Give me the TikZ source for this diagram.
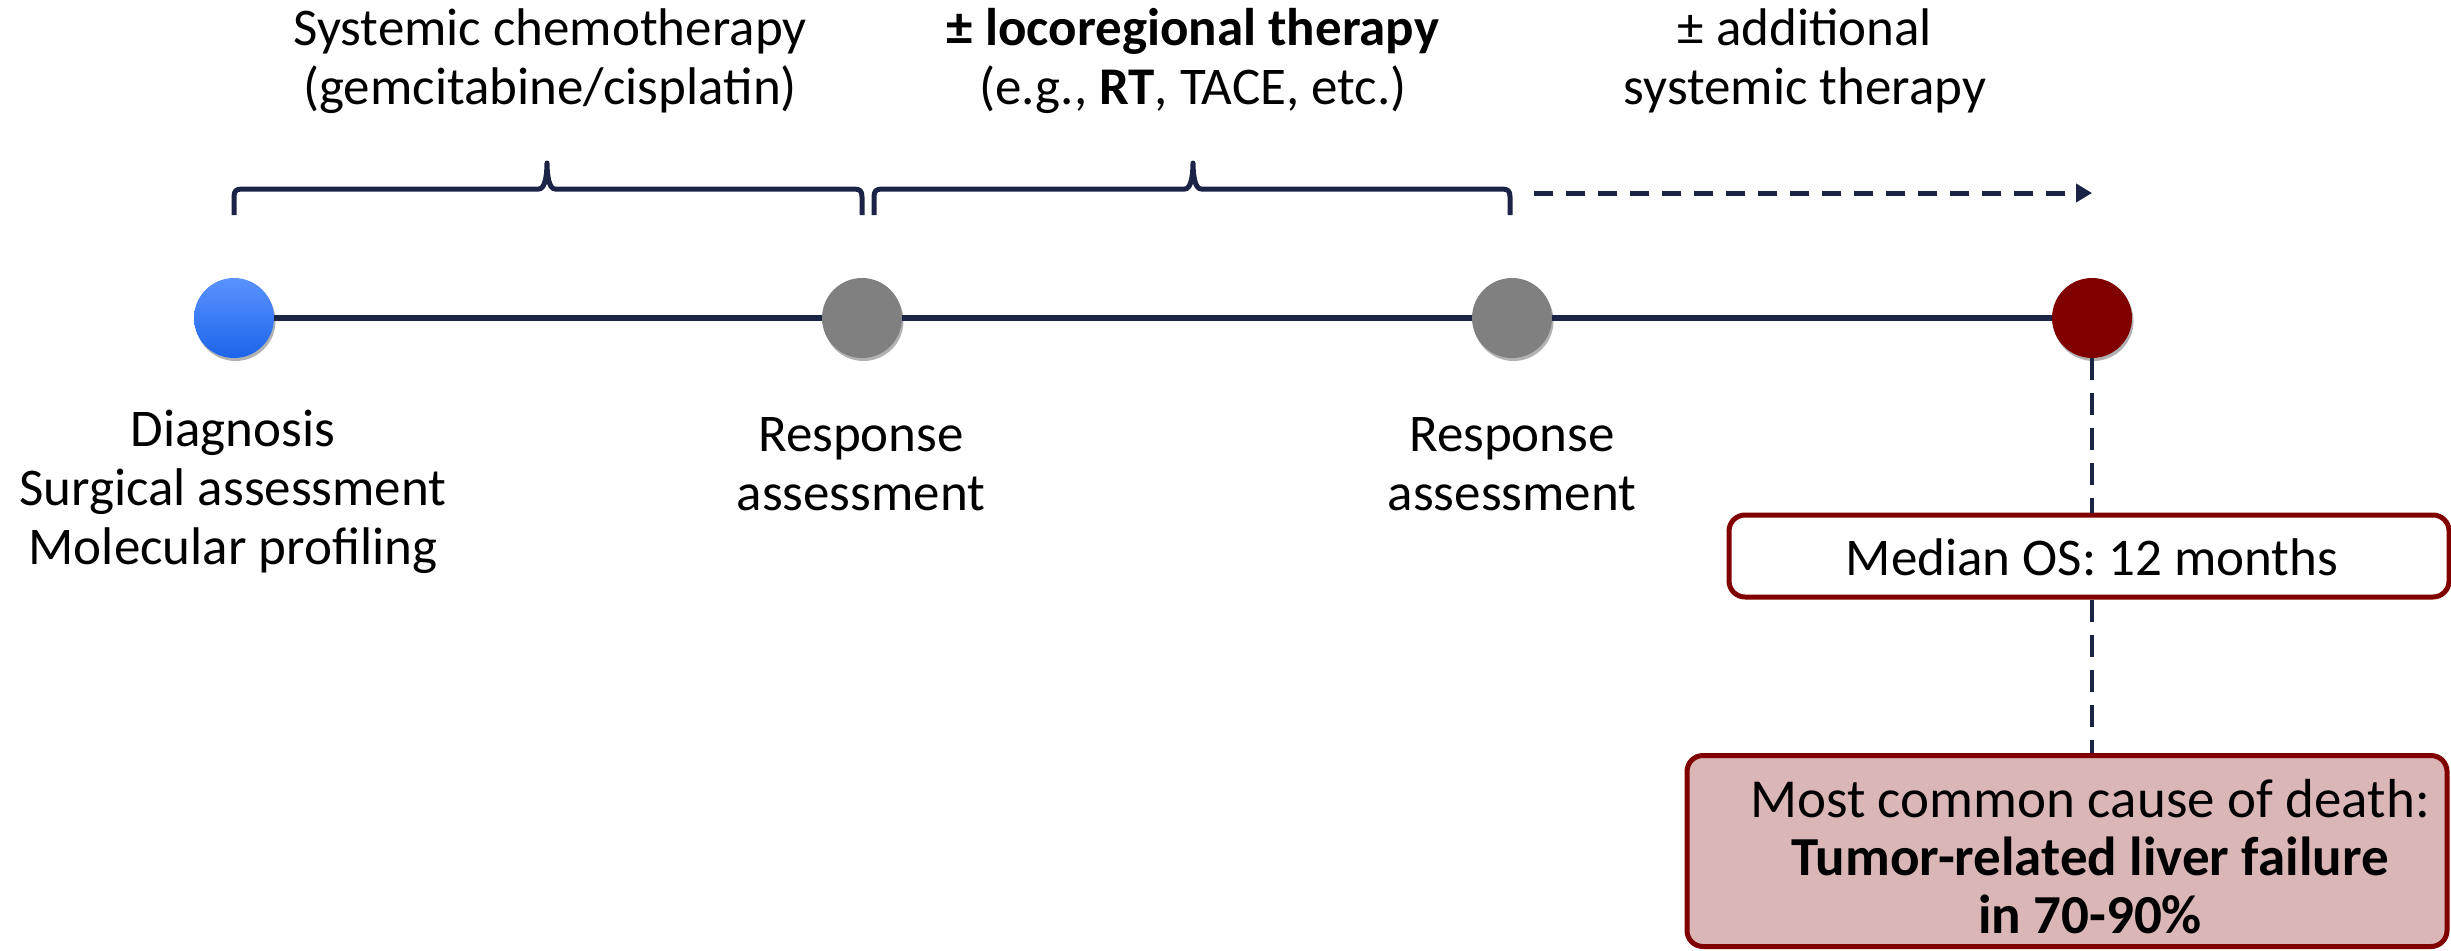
\documentclass[tikz,border=0pt]{standalone}
\usepackage{fontspec}
\setmainfont{Carlito}
\usetikzlibrary{arrows.meta,shadows,calc}
\definecolor{navy}{HTML}{1B2446}
\definecolor{darkred}{HTML}{800000}
\definecolor{boxfill}{HTML}{DAB6B6}
\definecolor{bluetop}{HTML}{5A93FF}
\definecolor{bluebot}{HTML}{1C64EA}
\definecolor{graydot}{HTML}{808080}
\begin{document}
\begin{tikzpicture}[x=1pt,y=-1pt,
  lbl/.style={align=center,font=\fontsize{53}{59}\selectfont,inner sep=0pt},
  biglbl/.style={align=center,font=\fontsize{55}{58}\selectfont,inner sep=0pt},
  dot/.style={circle,minimum size=80pt,inner sep=0pt,
    drop shadow={shadow xshift=1.5pt,shadow yshift=-3pt,opacity=0.3,fill=black}},
  tl/.style={navy,line width=6pt},
  bracestyle/.style={navy,line width=5pt,line join=round},
  dashline/.style={navy,line width=3.5pt,dash pattern=on 22pt off 13pt},
  dasharrow/.style={navy,line width=5pt,dash pattern=on 19pt off 13pt,
    -{Triangle[length=16pt,width=18pt]}},
  rbox/.style={draw=darkred,line width=5pt,rounded corners=16pt,inner sep=0pt}
]
\useasboundingbox (0,0) rectangle (2451,950);

% top labels
\node[lbl] (chemo) at (550,61) {Systemic chemotherapy\\(gemcitabine/cisplatin)};
\node[lbl] (loco) at (1193,61) {\textbf{± locoregional therapy}\\(e.g., \textbf{RT}, TACE, etc.)};
\node[lbl] (addl) at (1805,61) {± additional\\systemic therapy};

% braces
\coordinate (b1s) at (234,215);
\coordinate (b1m) at (547,163);
\coordinate (b1e) at (862,215);
\coordinate (b2s) at (874,215);
\coordinate (b2m) at (1193,163);
\coordinate (b2e) at (1510,215);
\draw[bracestyle] (b1s) -- ++(0,-18) .. controls +(0,-6) and +(-6,0) .. ++(8,-8)
  -- ($(b1m)+(-8,26)$) .. controls +(6,0) and +(0,12) .. (b1m)
  .. controls +(0,12) and +(-6,0) .. ($(b1m)+(8,26)$)
  -- ($(b1e)+(-8,-26)$) .. controls +(6,0) and +(0,-6) .. ($(b1e)+(0,-18)$) -- (b1e);
\draw[bracestyle] (b2s) -- ++(0,-18) .. controls +(0,-6) and +(-6,0) .. ++(8,-8)
  -- ($(b2m)+(-8,26)$) .. controls +(6,0) and +(0,12) .. (b2m)
  .. controls +(0,12) and +(-6,0) .. ($(b2m)+(8,26)$)
  -- ($(b2e)+(-8,-26)$) .. controls +(6,0) and +(0,-6) .. ($(b2e)+(0,-18)$) -- (b2e);

% dashed arrow
\coordinate (a1) at (1534,193);
\coordinate (a2) at (2092,193);
\draw[dasharrow] (a1) -- (a2);

% timeline dots
\node[dot,top color=bluetop,bottom color=bluebot] (diag) at (234,318) {};
\node[dot,fill=graydot] (r1) at (862,318) {};
\node[dot,fill=graydot] (r2) at (1512,318) {};
\node[dot,fill=darkred] (fin) at (2092,318) {};

\draw[tl] (diag.east) -- (r1.west);
\draw[tl] (r1.east) -- (r2.west);
\draw[tl] (r2.east) -- (fin.west);

% lower labels
\node[lbl] (diagtxt) at (233,492) {Diagnosis\\Surgical assessment\\Molecular profiling};
\node[lbl] (r1txt) at (861,464) {Response\\assessment};
\node[lbl] (r2txt) at (1512,464) {Response\\assessment};

% boxes
\node[rbox,fill=white,minimum width=720pt,minimum height=82pt] (os) at (2089,556) {};
\node[lbl] (ostxt) at (2092,557) {Median OS: 12 months};
\node[rbox,fill=boxfill,minimum width=760pt,minimum height=191pt] (death) at (2067,851) {};
\node[biglbl] (deathtxt) at (2090,857) {Most common cause of death:\\\textbf{Tumor-related liver failure}\\\textbf{in 70-90\%}};

% vertical dashed connectors
\draw[dashline] (fin.south) -- (os.north -| fin.south);
\draw[dashline] (os.south -| fin.south) -- (death.north -| fin.south);
\end{tikzpicture}
\end{document}
